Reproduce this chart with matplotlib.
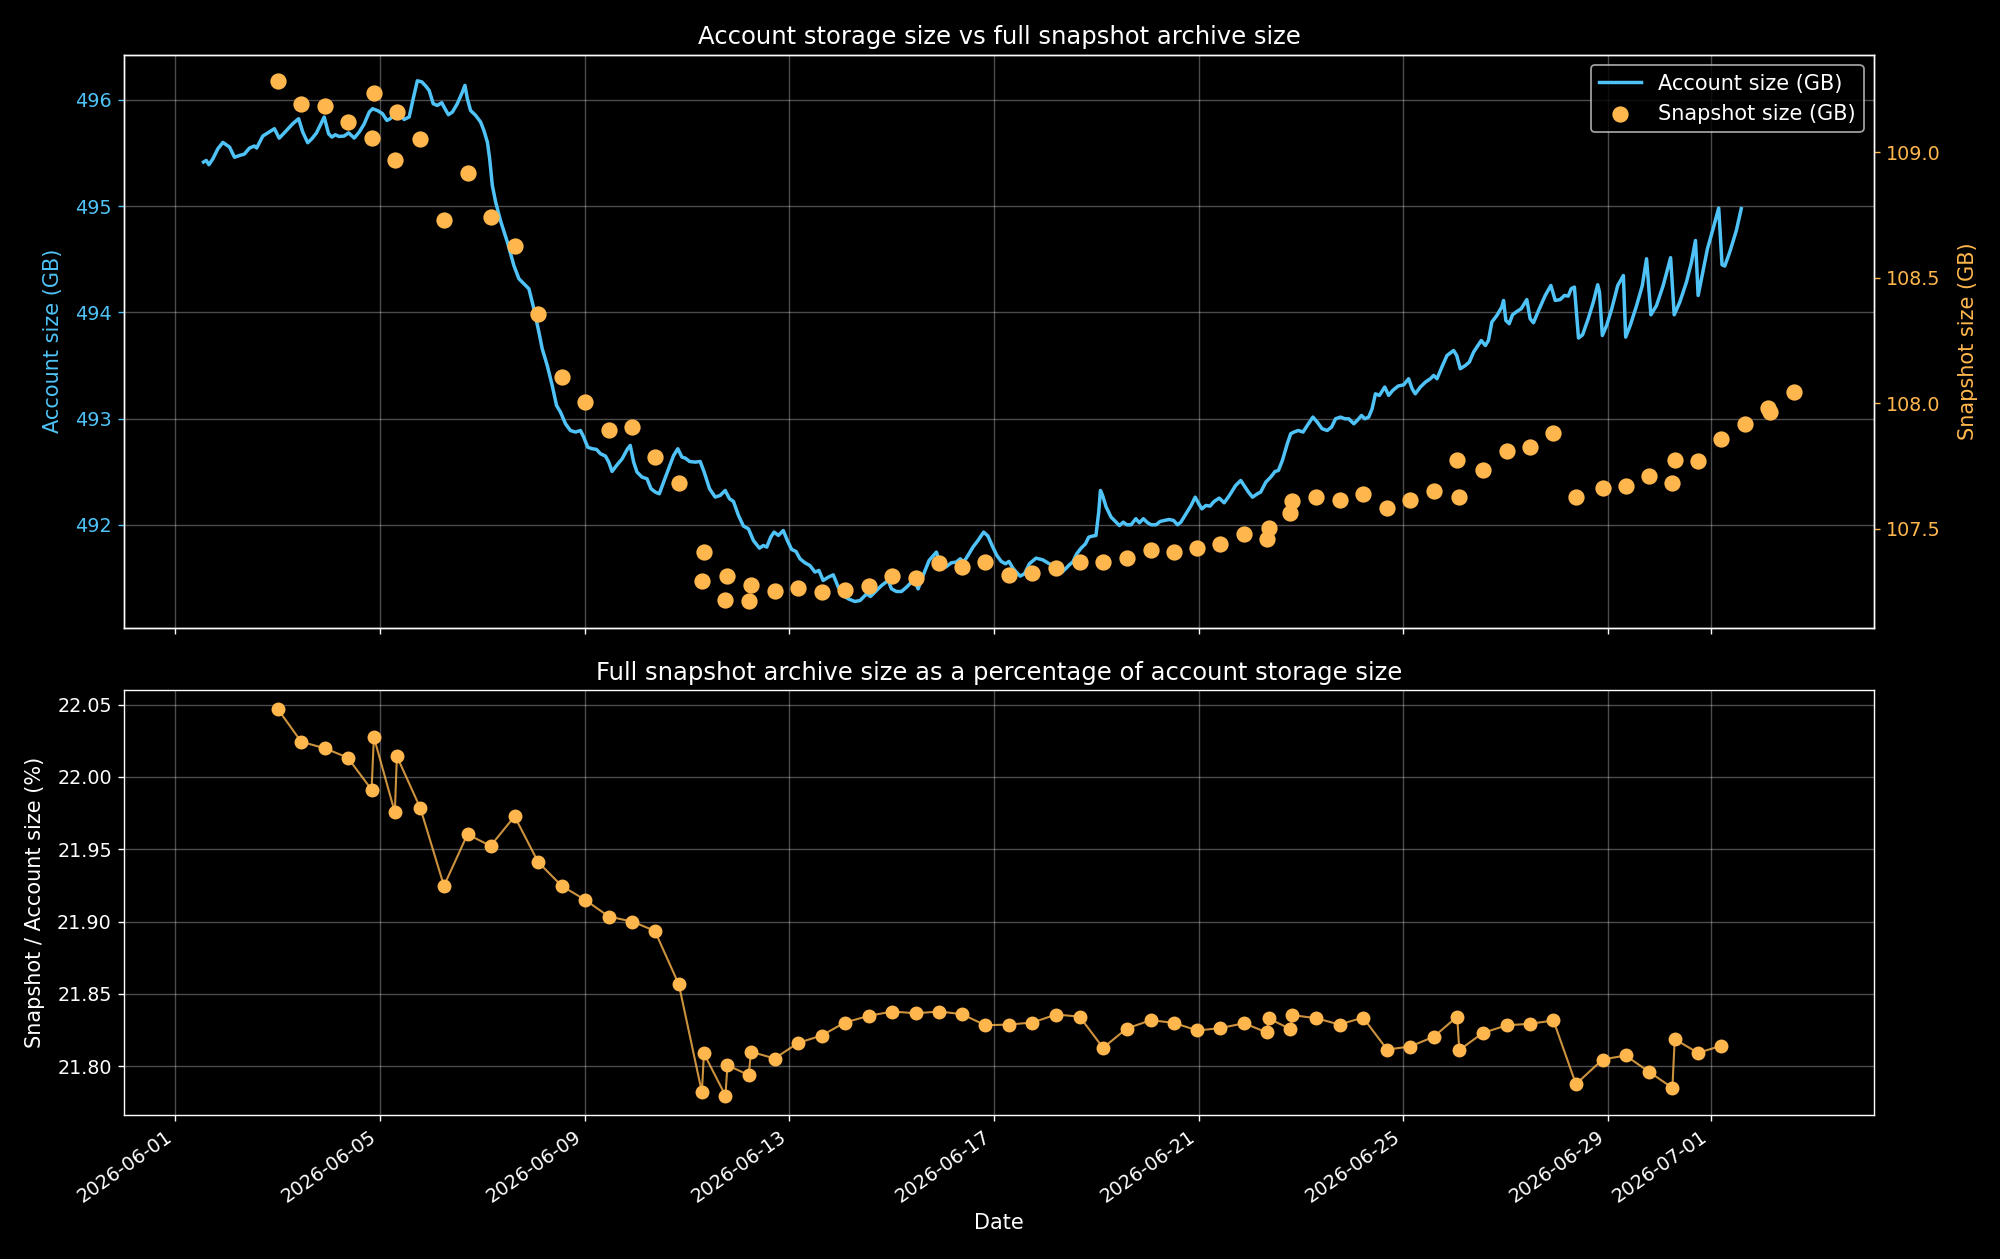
import numpy as np
import pandas as pd
import matplotlib
matplotlib.use("Agg")
import matplotlib.pyplot as plt

# account storage size, day offset from 2026-06-01 00:00 and size in GB
acct_day = [
    0.552, 0.605, 0.657, 0.735, 0.832, 0.93, 1.06, 1.157, 1.255, 1.35, 1.45, 1.546, 1.59, 1.71, 1.81,
    1.937, 2.03, 2.13, 2.295, 2.41, 2.49, 2.587, 2.67, 2.76, 2.91, 2.995, 3.06, 3.127, 3.2, 3.30,
    3.387, 3.497, 3.595, 3.69, 3.79, 3.855, 3.95, 4.05, 4.134, 4.2, 4.245, 4.375, 4.47, 4.57, 4.648,
    4.73, 4.817, 4.895, 4.96, 5.04, 5.12, 5.207, 5.27, 5.337, 5.415, 5.51, 5.61, 5.66, 5.707, 5.77,
    5.87, 5.966, 6.03, 6.1, 6.143, 6.195, 6.26, 6.357, 6.49, 6.617, 6.715, 6.81, 6.91, 7.007, 7.105,
    7.17, 7.268, 7.365, 7.45, 7.527, 7.625, 7.72, 7.82, 7.917, 7.98, 8.06, 8.145, 8.23, 8.307, 8.405,
    8.47, 8.535, 8.633, 8.73, 8.83, 8.89, 8.957, 9.022, 9.12, 9.218, 9.296, 9.38, 9.458, 9.542, 9.64,
    9.737, 9.82, 9.9, 9.965, 10.05, 10.16, 10.257, 10.335, 10.44, 10.55, 10.647, 10.745, 10.83, 10.907,
    11.005, 11.102, 11.2, 11.297, 11.415, 11.49, 11.558, 11.636, 11.70, 11.785, 11.88, 11.96, 12.045,
    12.13, 12.207, 12.305, 12.4, 12.5, 12.577, 12.66, 12.76, 12.857, 12.955, 13.05, 13.15, 13.28,
    13.38, 13.51, 13.585, 13.67, 13.80, 13.93, 13.995, 14.093, 14.19, 14.29, 14.385, 14.45, 14.515,
    14.61, 14.73, 14.873, 14.937, 15.055, 15.165, 15.26, 15.34, 15.405, 15.49, 15.587, 15.685, 15.796,
    15.88, 15.965, 16.055, 16.14, 16.224, 16.29, 16.367, 16.433, 16.51, 16.595, 16.69, 16.82, 16.95,
    17.08, 17.21, 17.33, 17.41, 17.47, 17.537, 17.615, 17.70, 17.785, 17.85, 17.928, 17.99, 18.045,
    18.078, 18.12, 18.19, 18.286, 18.384, 18.45, 18.525, 18.59, 18.676, 18.77, 18.84, 18.917, 19.0,
    19.07, 19.165, 19.243, 19.33, 19.42, 19.507, 19.585, 19.65, 19.75, 19.85, 19.93, 20.0, 20.06,
    20.14, 20.22, 20.3, 20.4, 20.496, 20.59, 20.72, 20.82, 20.885, 20.97, 21.05, 21.146, 21.21, 21.31,
    21.406, 21.49, 21.555, 21.633, 21.73, 21.796, 21.86, 21.945, 22.037, 22.12, 22.23, 22.315, 22.41,
    22.51, 22.595, 22.673, 22.77, 22.855, 22.93, 23.03, 23.095, 23.18, 23.245, 23.32, 23.387, 23.452,
    23.53, 23.634, 23.71, 23.79, 23.895, 24.005, 24.1, 24.17, 24.23, 24.33, 24.43, 24.526, 24.59,
    24.655, 24.75, 24.85, 24.98, 25.04, 25.11, 25.21, 25.287, 25.37, 25.455, 25.52, 25.6, 25.66,
    25.727, 25.825, 25.92, 25.956, 26.0, 26.066, 26.13, 26.215, 26.3, 26.41, 26.475, 26.54, 26.64,
    26.77, 26.88, 26.965, 27.06, 27.145, 27.22, 27.276, 27.34, 27.42, 27.5, 27.61, 27.71, 27.795,
    27.83, 27.886, 27.97, 28.07, 28.187, 28.297, 28.342, 28.43, 28.556, 28.667, 28.75, 28.835, 28.945,
    29.075, 29.22, 29.29, 29.4, 29.53, 29.628, 29.706, 29.758, 29.836, 29.94, 30.05, 30.16, 30.225,
    30.278, 30.376, 30.505, 30.6,
]
acct_gb = [
    495.415, 495.43, 495.39, 495.446, 495.54, 495.60, 495.556, 495.46, 495.477, 495.49, 495.547, 495.566, 495.547, 495.66, 495.69,
    495.729, 495.64, 495.69, 495.776, 495.823, 495.698, 495.597, 495.635, 495.69, 495.839, 495.682, 495.65, 495.672, 495.656, 495.66,
    495.69, 495.641, 495.698, 495.773, 495.886, 495.917, 495.90, 495.87, 495.807, 495.823, 495.848, 495.886, 495.816, 495.839, 496.01,
    496.18, 496.17, 496.13, 496.09, 495.964, 495.948, 495.974, 495.917, 495.861, 495.886, 495.964, 496.074, 496.137, 496.011, 495.90,
    495.854, 495.792, 495.713, 495.60, 495.446, 495.195, 495.039, 494.86, 494.66, 494.44, 494.316, 494.27, 494.222, 494.034, 493.814,
    493.657, 493.50, 493.312, 493.123, 493.061, 492.951, 492.888, 492.873, 492.888, 492.826, 492.73, 492.716, 492.71, 492.669, 492.647,
    492.59, 492.502, 492.565, 492.62, 492.709, 492.747, 492.59, 492.496, 492.449, 492.433, 492.339, 492.308, 492.292, 492.402, 492.527,
    492.652, 492.716, 492.637, 492.628, 492.596, 492.59, 492.596, 492.496, 492.339, 492.261, 492.276, 492.323, 492.245, 492.22,
    492.088, 491.988, 491.962, 491.852, 491.78, 491.805, 491.79, 491.884, 491.931, 491.90, 491.946, 491.852, 491.767,
    491.749, 491.68, 491.642, 491.617, 491.555, 491.57, 491.476, 491.507, 491.529, 491.413, 491.334, 491.303, 491.278,
    491.287, 491.35, 491.325, 491.366, 491.428, 491.476, 491.397, 491.372, 491.372, 491.413, 491.46, 491.476, 491.397,
    491.52, 491.664, 491.743, 491.649, 491.602, 491.642, 491.649, 491.68, 491.649, 491.711, 491.79, 491.852, 491.931,
    491.894, 491.80, 491.711, 491.655, 491.633, 491.655, 491.592, 491.555, 491.517, 491.539, 491.633, 491.686, 491.67,
    491.633, 491.602, 491.555, 491.592, 491.623, 491.649, 491.727, 491.78, 491.82, 491.884, 491.894, 491.899, 492.12,
    492.323, 492.276, 492.167, 492.072, 492.025, 491.993, 492.025, 492.0, 492.0, 492.057, 492.019, 492.057, 492.019,
    492.0, 492.0, 492.031, 492.041, 492.05, 492.041, 492.0, 492.025, 492.104, 492.182, 492.26, 492.198, 492.15,
    492.182, 492.176, 492.22, 492.251, 492.207, 492.27, 492.37, 492.417, 492.37, 492.308, 492.26, 492.292, 492.308, 492.402,
    492.449, 492.502, 492.511, 492.605, 492.763, 492.857, 492.873, 492.888, 492.873, 492.935, 493.014, 492.967, 492.904,
    492.888, 492.92, 492.998, 493.014, 492.998, 492.998, 492.951, 492.982, 493.029, 492.998, 493.014, 493.092, 493.233,
    493.218, 493.297, 493.218, 493.265, 493.306, 493.318, 493.375, 493.28, 493.233, 493.297, 493.344, 493.375, 493.406,
    493.375, 493.485, 493.594, 493.641, 493.594, 493.469, 493.50, 493.532, 493.626, 493.688, 493.735, 493.688, 493.735,
    493.909, 493.971, 494.05, 494.112, 493.924, 493.893, 493.977, 494.008, 494.034, 494.12, 493.94, 493.902, 494.018,
    494.159, 494.253, 494.112, 494.12, 494.159, 494.153, 494.222, 494.238, 493.758, 493.789, 493.94, 494.097, 494.26,
    494.191, 493.782, 493.876, 494.034, 494.253, 494.347, 493.767, 493.876, 494.065, 494.253, 494.505, 493.977, 494.065,
    494.253, 494.515, 493.977, 494.097, 494.285, 494.474, 494.677, 494.159, 494.347, 494.599, 494.787, 494.982, 494.448,
    494.436, 494.568, 494.771, 494.976,
]

# full snapshot archives, day offset and size in GB
snap_day = [
    2.007, 2.46, 2.925, 3.37, 3.836, 3.88, 4.29, 4.33, 4.79, 5.25, 5.71, 6.16, 6.63, 7.09, 7.55,
    8.01, 8.47, 8.93, 9.37, 9.84, 10.29, 10.33, 10.75, 10.79, 11.205, 11.25, 11.71, 12.17, 12.63,
    13.085, 13.55, 14.01, 14.47, 14.93, 15.37, 15.83, 16.295, 16.75, 17.21, 17.67, 18.13, 18.59,
    19.06, 19.51, 19.97, 20.42, 20.885, 21.33, 21.37, 21.79, 21.83, 22.29, 22.75, 23.21, 23.68,
    24.13, 24.59, 25.05, 25.09, 25.55, 26.02, 26.47, 26.93, 27.37, 27.89, 28.34, 28.79, 29.255,
    29.30, 29.755, 30.21, 30.665, 31.12, 31.17, 31.64,
]
snap_gb = [
    109.285, 109.193, 109.183, 109.119, 109.059, 109.236, 108.971, 109.160, 109.053, 108.731, 108.918, 108.743, 108.627, 108.357, 108.103,
    108.004, 107.894, 107.906, 107.786, 107.684, 107.291, 107.407, 107.217, 107.311, 107.210, 107.276, 107.253, 107.264, 107.247,
    107.255, 107.273, 107.311, 107.304, 107.365, 107.347, 107.369, 107.314, 107.323, 107.343, 107.369, 107.366, 107.384,
    107.416, 107.407, 107.424, 107.438, 107.480, 107.460, 107.503, 107.561, 107.610, 107.628, 107.613, 107.637, 107.582,
    107.614, 107.652, 107.772, 107.628, 107.733, 107.811, 107.825, 107.882, 107.628, 107.661, 107.672, 107.710, 107.684,
    107.772, 107.768, 107.856, 107.916, 107.980, 107.965, 108.044,
]

# snapshot / account size (%) at the snapshots that have an account value
ratio_pct = [
    22.0468, 22.0244, 22.0198, 22.0134, 21.9912, 22.0276, 21.9756, 22.0143, 21.9783, 21.9247, 21.9604, 21.9523,
    21.9728, 21.9412, 21.9247, 21.915, 21.9035, 21.900, 21.8936, 21.8565, 21.782, 21.8088, 21.7797, 21.8007,
    21.7938, 21.810, 21.8053, 21.8161, 21.8212, 21.8302, 21.8348, 21.8378, 21.8366, 21.8378, 21.836, 21.8283,
    21.8288, 21.8302, 21.8357, 21.8343, 21.8127, 21.826, 21.8318, 21.830, 21.8247, 21.8263, 21.8297, 21.8233,
    21.833, 21.8256, 21.8353, 21.8332, 21.8288, 21.8336, 21.8115, 21.8136, 21.8203, 21.8343, 21.8111, 21.823,
    21.8283, 21.8293, 21.8316, 21.7876, 21.8046, 21.8074, 21.7963, 21.785, 21.8187, 21.8092, 21.8141,
]

start = pd.Timestamp("2026-06-01")
acct_t = start + pd.to_timedelta(acct_day, unit="D")
snap_t = start + pd.to_timedelta(snap_day, unit="D")
ratio_t = snap_t[:len(ratio_pct)]

blue = "#4fc3f7"
orange = "#ffb74d"

plt.style.use("dark_background")
plt.rcParams["font.size"] = 12
plt.rcParams["xtick.labelsize"] = 11
plt.rcParams["ytick.labelsize"] = 11

fig, (ax1, ax3) = plt.subplots(2, 1, figsize=(16, 10.072), dpi=125, sharex=True,
                               gridspec_kw={"height_ratios": [572.7, 424.8]})

ax1.plot(acct_t, acct_gb, color=blue, lw=2, label="Account size (GB)")
ax1.set_ylabel("Account size (GB)", color=blue, labelpad=7)
ax1.tick_params(axis="y", colors=blue)
ax1.grid(True, alpha=0.3)

ax2 = ax1.twinx()
ax2.scatter(snap_t, snap_gb, color=orange, s=70, zorder=3, label="Snapshot size (GB)")
ax2.set_ylabel("Snapshot size (GB)", color=orange, labelpad=10)
ax2.tick_params(axis="y", colors=orange)

h1, l1 = ax1.get_legend_handles_labels()
h2, l2 = ax2.get_legend_handles_labels()
ax1.legend(h1 + h2, l1 + l2, loc="upper right")
ax1.set_title("Account storage size vs full snapshot archive size", fontsize=14)

# thin, slightly dimmer connecting line, full-colour markers
ax3.plot(ratio_t, ratio_pct, color=(1.0, 0.718, 0.302, 0.8), lw=1.2,
         marker="o", markersize=7, mfc=orange, mec=orange)
ax3.set_ylabel("Snapshot / Account size (%)", labelpad=7)
ax3.set_xlabel("Date")
ax3.set_title("Full snapshot archive size as a percentage of account storage size", fontsize=14)
ax3.grid(True, alpha=0.3)

fig.autofmt_xdate(rotation=35)
fig.subplots_adjust(left=0.062, right=0.937, top=0.9565, bottom=0.1145, hspace=0.1253)
fig.savefig("out.png", dpi=125)
